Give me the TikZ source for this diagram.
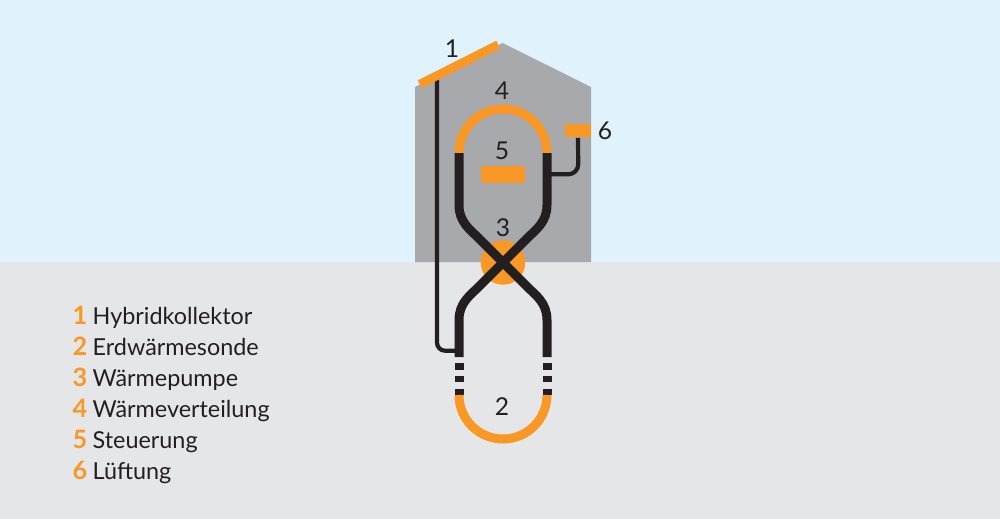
\documentclass[tikz,border=0pt]{standalone}
\usepackage{fontspec}
\setmainfont{Lato}
\definecolor{sky}{HTML}{E0F3FD}
\definecolor{ground}{HTML}{E5E6E8}
\definecolor{house}{HTML}{A8A9AD}
\definecolor{sonne}{HTML}{F99825}
\definecolor{rohr}{HTML}{231F20}
\tikzset{
  num/.style={font=\fontsize{7}{8}\selectfont, text=rohr, inner sep=0},
  item/.style={font=\fontsize{6.65}{7}\selectfont, text=rohr, inner sep=0, anchor=base west},
  itemnum/.style={font=\fontsize{7.2}{8}\selectfont\bfseries, text=sonne, inner sep=0, anchor=base west},
  block/.style={fill=sonne, inner sep=0},
  pipe/.style={draw=rohr, line width=0.9mm},
  warm/.style={draw=sonne, line width=0.9mm},
  thinpipe/.style={draw=rohr, line width=0.42mm}
}
\begin{document}
\begin{tikzpicture}[x=0.1mm, y=-0.1mm]
      \fill[sky] (0,0) rectangle (1000,262);
      \fill[ground] (0,262) rectangle (1000,519);
      \fill[house] (415,87) -- (502.5,43) -- (591,87) -- (591,262) -- (415,262) -- cycle;

      \node[block, circle, minimum size=4.45mm] (WP) at (503,262.5) {};
      \node[block, minimum width=4.45mm, minimum height=1.77mm] (St) at (503.2,174.5) {};
      \node[block, minimum width=2.6mm, minimum height=1.32mm] (Lu) at (578,130.5) {};

      \coordinate (K1) at (419.7,84.3);
      \coordinate (K2) at (498.3,44.7);
      \coordinate (H1) at (437,78);
      \coordinate (H2) at (455,350.7);
      \coordinate (L2) at (551,174.3);

      \draw[thinpipe, rounded corners=0.8mm] (H1) -- (437,350.7) -- (H2);
      \draw[thinpipe, rounded corners=1mm] (Lu.south) -- (578.3,174.3) -- (L2);
      \draw[sonne, line width=0.88mm] (K1) -- (K2);

      % verteilung oben, sonde unten
      \coordinate (A1) at (459,153);
      \coordinate (A2) at (547,153);
      \coordinate (B1) at (459,357);
      \coordinate (B2) at (547,357);
      \draw[warm] (A1) arc[start angle=180, end angle=360, radius=4.4mm, y radius=-4.4mm];
      \draw[pipe] (A1) -- (459,205) .. controls (459,222) and (470,229.5) .. (478,237.5)
        -- (528,287.5) .. controls (536,295.5) and (547,303) .. (547,320) -- (B2);
      \draw[pipe] (A2) -- (547,205) .. controls (547,222) and (536,229.5) .. (528,237.5)
        -- (478,287.5) .. controls (470,295.5) and (459,303) .. (459,320) -- (B1);

      \foreach \px in {459,547} {
        \draw[pipe] (\px,363.3) -- (\px,369.5);
        \draw[pipe] (\px,376) -- (\px,382.3);
        \draw[pipe] (\px,388.7) -- (\px,395);
      }
      \coordinate (C1) at (459,395);
      \draw[warm] (C1) arc[start angle=180, end angle=0, radius=4.4mm, y radius=-4.4mm];

      \node[num] (n1) at (452,49) {1};
      \node[num] (n2) at (502,407) {2};
      \node[num] (n3) at (503,228) {3};
      \node[num] (n4) at (502,91) {4};
      \node[num] (n5) at (502,151) {5};
      \node[num] (n6) at (605,131) {6};

      \foreach \i/\txt [count=\c from 0] in {1/Hybridkollektor, 2/Erdwärmesonde, 3/Wärmepumpe,
          4/Wärmeverteilung, 5/Steuerung, 6/Lüftung} {
        \node[itemnum] (nr\i) at (72,324+31.1*\c) {\i};
        \node[item] (le\i) at (92,324+31.1*\c) {\txt};
      }
    \end{tikzpicture}
\end{document}
